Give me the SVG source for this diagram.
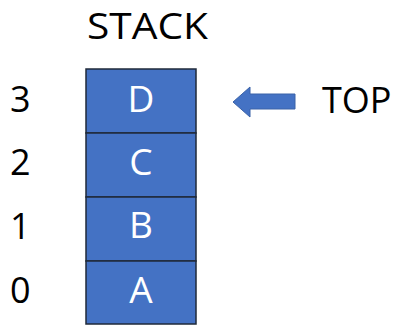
<svg xmlns="http://www.w3.org/2000/svg" width="395" height="325" viewBox="0 0 395 325">
<style>
.cell{fill:#4472C4;stroke:#1f2a3a;stroke-width:1.5}
.lt{font-family:"Open Sans","Noto Sans",sans-serif;font-size:37px;fill:#fff;text-anchor:middle}
.t{font-family:"Open Sans","Noto Sans",sans-serif;font-size:36px;fill:#000}
</style>
<rect width="395" height="325" fill="#fff"/>
<text class="t" x="87" y="39" textLength="121" lengthAdjust="spacingAndGlyphs">STACK</text>
<g id="idx">
<text class="t" x="10" y="112">3</text>
<text class="t" x="10" y="175">2</text>
<text class="t" x="10" y="239">1</text>
<text class="t" x="10" y="303">0</text>
</g>
<g id="cellD"><rect class="cell" x="86" y="69" width="110" height="64"/><text class="lt" x="141" y="112">D</text></g>
<g id="cellC"><rect class="cell" x="86" y="133" width="110" height="64"/><text class="lt" x="141" y="175">C</text></g>
<g id="cellB"><rect class="cell" x="86" y="197" width="110" height="64"/><text class="lt" x="141" y="238">B</text></g>
<g id="cellA"><rect class="cell" x="86" y="261" width="110" height="63"/><text class="lt" x="141" y="303">A</text></g>
<g id="connectors">
<path d="M233,102 L250,87 L250,94 L295,94 L295,109 L250,109 L250,117 Z" fill="#4472C4" stroke="#3a62a8" stroke-width="1"/>
</g>
<g id="top"><text class="t" x="322" y="113">TOP</text></g>
</svg>
